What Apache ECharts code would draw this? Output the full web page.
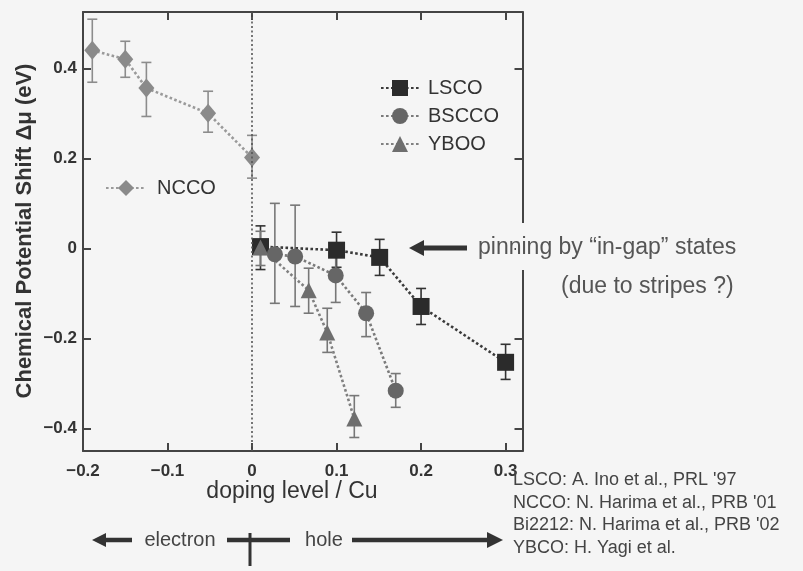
<!DOCTYPE html>
<html><head><meta charset="utf-8">
<script src="https://cdn.jsdelivr.net/npm/echarts@6/dist/echarts.min.js"></script>
<style>html,body{margin:0;padding:0;background:#f5f5f5}#c{width:803px;height:571px}</style>
</head><body><div id="c"></div>
<script>
// ---- data ----
const xTicks = [-0.2, -0.1, 0, 0.1, 0.2, 0.3];
const yTicks = [-0.4, -0.2, 0, 0.2, 0.4];

const nccoX  = [-0.189, -0.150, -0.125, -0.052, 0.0];
const nccoY  = [0.440, 0.420, 0.356, 0.300, 0.202];
const nccoLo = [0.369, 0.380, 0.293, 0.258, 0.156];
const nccoHi = [0.509, 0.460, 0.413, 0.349, 0.251];

const lscoX  = [0.010, 0.100, 0.151, 0.200, 0.300];
const lscoY  = [0.004, -0.004, -0.020, -0.129, -0.253];
const lscoLo = [-0.047, -0.042, -0.060, -0.169, -0.291];
const lscoHi = [0.050, 0.036, 0.020, -0.089, -0.213];

const bsccoX  = [0.027, 0.051, 0.099, 0.135, 0.170];
const bsccoY  = [-0.013, -0.018, -0.060, -0.144, -0.316];
const bsccoLo = [-0.122, -0.129, -0.120, -0.196, -0.353];
const bsccoHi = [0.100, 0.096, -0.004, -0.098, -0.278];

const ybcoX  = [0.010, 0.067, 0.089, 0.121];
const ybcoY  = [0.002, -0.093, -0.187, -0.378];
const ybcoLo = [-0.038, -0.144, -0.231, -0.420];
const ybcoHi = [0.038, -0.044, -0.133, -0.327];

const refLines = [
  "LSCO: A. Ino et al., PRL '97",
  "NCCO: N. Harima et al., PRB '01",
  "Bi2212: N. Harima et al., PRB '02",
  "YBCO: H. Yagi et al."
];

// ---- helpers ----
const BG = '#f5f5f5';
const FONT = '"Liberation Sans", Arial, sans-serif';
const pts = (xs, ys) => xs.map((x, i) => [x, ys[i]]);
const errs = (xs, lo, hi) => xs.map((x, i) => [x, lo[i], hi[i]]);
const fmt = v => Math.abs(v) < 1e-9 ? '0' : (v < 0 ? '\u2212' : '') + Math.abs(v).toFixed(1);

function errRender(params, api) {
  const x = api.value(0), lo = api.value(1), hi = api.value(2);
  const p1 = api.coord([x, hi]), p2 = api.coord([x, lo]);
  const hw = 5;
  const style = { stroke: api.visual('color'), lineWidth: 1.6 };
  return { type: 'group', children: [
    { type: 'line', shape: { x1: p1[0], y1: p1[1], x2: p2[0], y2: p2[1] }, style },
    { type: 'line', shape: { x1: p1[0] - hw, y1: p1[1], x2: p1[0] + hw, y2: p1[1] }, style },
    { type: 'line', shape: { x1: p2[0] - hw, y1: p2[1], x2: p2[0] + hw, y2: p2[1] }, style }
  ]};
}
function errSeries(data, color) {
  return { type: 'custom', renderItem: errRender, data: data, encode: { x: 0, y: [1, 2] },
    itemStyle: { color: color }, z: 2, silent: true, clip: false };
}
function lineSeries(name, data, color, lineColor, symbol, size) {
  return { type: 'line', name: name, data: data, symbol: symbol, symbolSize: size,
    itemStyle: { color: color }, lineStyle: { color: lineColor, width: 2.6, type: [2.6, 2.4] },
    z: 3, animation: false };
}

const axisCommon = {
  axisLine: { show: true, onZero: false, lineStyle: { color: '#444', width: 2 } },
  splitLine: { show: false }
};
const tickLabel = { color: '#333', fontSize: 17, fontWeight: 'bold', fontFamily: FONT };

const chart = echarts.init(document.getElementById('c'));
chart.setOption({
  backgroundColor: BG,
  animation: false,
  grid: { left: 83, right: 280.5, top: 12, bottom: 120 },
  xAxis: [
    Object.assign({ type: 'value', min: -0.2, max: 0.32, position: 'bottom',
      axisTick: { inside: true, length: 8, lineStyle: { color: '#444', width: 2 }, customValues: xTicks },
      axisLabel: Object.assign({ customValues: xTicks, formatter: fmt, margin: 12 }, tickLabel) }, axisCommon),
    Object.assign({ type: 'value', min: -0.2, max: 0.32, position: 'top',
      axisTick: { inside: true, length: 8, lineStyle: { color: '#444', width: 2 }, customValues: xTicks },
      axisLabel: { show: false } }, axisCommon)
  ],
  yAxis: [
    Object.assign({ type: 'value', min: -0.45, max: 0.525, position: 'left',
      axisTick: { inside: true, length: 8, lineStyle: { color: '#444', width: 2 }, customValues: yTicks },
      axisLabel: Object.assign({ customValues: yTicks, formatter: fmt, margin: 6 }, tickLabel) }, axisCommon),
    Object.assign({ type: 'value', min: -0.45, max: 0.525, position: 'right',
      axisTick: { inside: true, length: 8, lineStyle: { color: '#444', width: 2 }, customValues: yTicks },
      axisLabel: { show: false } }, axisCommon)
  ],
  legend: [
    { data: ['LSCO', 'BSCCO', 'YBOO'], orient: 'vertical', left: 375, top: 73,
      itemWidth: 38, itemHeight: 20, itemGap: 8,
      textStyle: { fontSize: 20, color: '#333', fontFamily: FONT, padding: [0, 0, 0, 4] } },
    { data: ['NCCO'], orient: 'vertical', left: 100, top: 173,
      itemWidth: 40, itemHeight: 20,
      textStyle: { fontSize: 20, color: '#333', fontFamily: FONT, padding: [0, 0, 0, 6] } }
  ],
  series: [
    errSeries(errs(nccoX, nccoLo, nccoHi), '#8c8c8c'),
    errSeries(errs(lscoX, lscoLo, lscoHi), '#333333'),
    errSeries(errs(bsccoX, bsccoLo, bsccoHi), '#777777'),
    errSeries(errs(ybcoX, ybcoLo, ybcoHi), '#777777'),
    Object.assign(lineSeries('NCCO', pts(nccoX, nccoY), '#8a8a8a', '#9a9a9a', 'diamond', [16, 19]), {
      markLine: { silent: true, symbol: 'none', label: { show: false },
        lineStyle: { color: '#555', width: 1.6, type: [2, 2.5] },
        data: [{ xAxis: 0 }] }
    }),
    lineSeries('LSCO', pts(lscoX, lscoY), '#2b2b2b', '#3a3a3a', 'rect', 17),
    lineSeries('BSCCO', pts(bsccoX, bsccoY), '#666666', '#7a7a7a', 'circle', 16),
    lineSeries('YBOO', pts(ybcoX, ybcoY), '#6e6e6e', '#808080', 'triangle', 16)
  ],
  graphic: [
    { type: 'rect', shape: { x: 516, y: 223, width: 14, height: 47 }, style: { fill: BG }, z: 100 },
    { type: 'text', x: 25, y: 231, rotation: Math.PI / 2, z: 101,
      style: { text: 'Chemical Potential Shift \u0394\u03bc (eV)', font: 'bold 22px ' + FONT, fill: '#333',
        align: 'center', verticalAlign: 'middle', textAlign: 'center', textVerticalAlign: 'middle' } },
    { type: 'text', x: 292, y: 492, z: 101,
      style: { text: 'doping level / Cu', font: '23px ' + FONT, fill: '#333',
        align: 'center', verticalAlign: 'middle', textAlign: 'center', textVerticalAlign: 'middle' } },
    { type: 'line', shape: { x1: 421, y1: 248, x2: 467, y2: 248 }, style: { stroke: '#333', lineWidth: 5 }, z: 101 },
    { type: 'polygon', shape: { points: [[409, 248], [424, 240], [424, 256]] }, style: { fill: '#333' }, z: 101 },
    { type: 'text', x: 478, y: 248, z: 102,
      style: { text: 'pinning by \u201cin-gap\u201d states', font: '23px ' + FONT, fill: '#555',
        align: 'left', verticalAlign: 'middle', textAlign: 'left', textVerticalAlign: 'middle' } },
    { type: 'text', x: 561, y: 287, z: 102,
      style: { text: '(due to stripes ?)', font: '23px ' + FONT, fill: '#555',
        align: 'left', verticalAlign: 'middle', textAlign: 'left', textVerticalAlign: 'middle' } },
    { type: 'line', shape: { x1: 102, y1: 540, x2: 132, y2: 540 }, style: { stroke: '#333', lineWidth: 4.5 }, z: 101 },
    { type: 'polygon', shape: { points: [[92, 540], [106, 533], [106, 547]] }, style: { fill: '#333' }, z: 101 },
    { type: 'text', x: 180, y: 540, z: 101,
      style: { text: 'electron', font: '20px ' + FONT, fill: '#444',
        align: 'center', verticalAlign: 'middle', textAlign: 'center', textVerticalAlign: 'middle' } },
    { type: 'line', shape: { x1: 227, y1: 540, x2: 290, y2: 540 }, style: { stroke: '#333', lineWidth: 4.5 }, z: 101 },
    { type: 'line', shape: { x1: 250, y1: 533, x2: 250, y2: 566 }, style: { stroke: '#333', lineWidth: 3 }, z: 101 },
    { type: 'text', x: 324, y: 540, z: 101,
      style: { text: 'hole', font: '20px ' + FONT, fill: '#444',
        align: 'center', verticalAlign: 'middle', textAlign: 'center', textVerticalAlign: 'middle' } },
    { type: 'line', shape: { x1: 352, y1: 540, x2: 490, y2: 540 }, style: { stroke: '#333', lineWidth: 4.5 }, z: 101 },
    { type: 'polygon', shape: { points: [[503, 540], [487, 532], [487, 548]] }, style: { fill: '#333' }, z: 101 }
  ].concat(refLines.map((t, i) => ({
    type: 'text', x: 513, y: 480 + i * 22.7, z: 101,
    style: { text: t, font: '18px ' + FONT, fill: '#444',
      align: 'left', verticalAlign: 'middle', textAlign: 'left', textVerticalAlign: 'middle' }
  })))
});
</script>
</body></html>
